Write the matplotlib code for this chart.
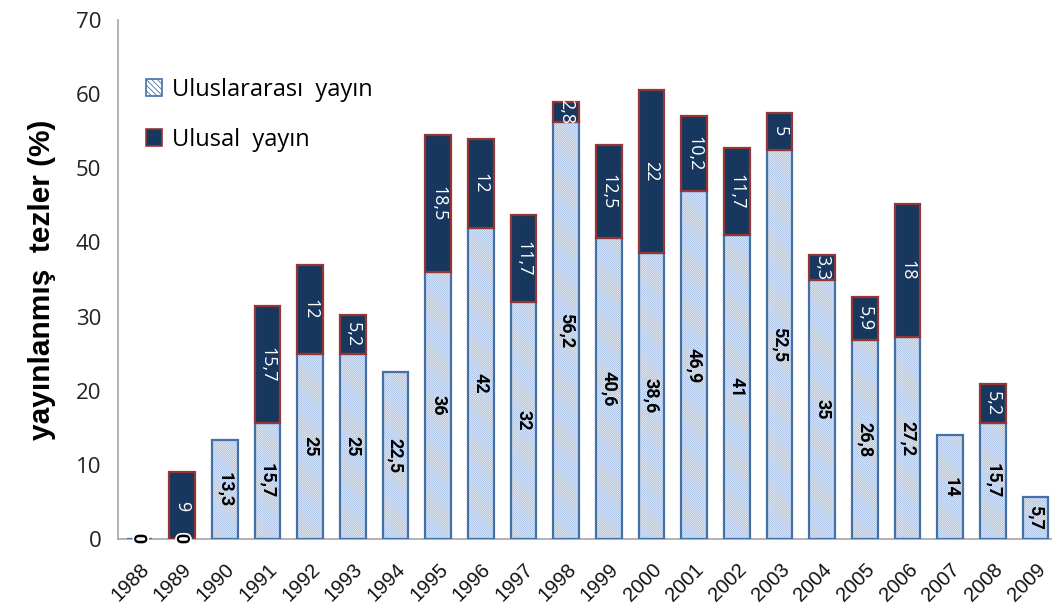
import matplotlib
matplotlib.use("Agg")
import matplotlib.pyplot as plt
from matplotlib.patches import Patch
from matplotlib import font_manager
import matplotlib.patheffects as pe
import numpy as np

years = ["1988", "1989", "1990", "1991", "1992", "1993", "1994", "1995", "1996", "1997", "1998",
         "1999", "2000", "2001", "2002", "2003", "2004", "2005", "2006", "2007", "2008", "2009"]
uluslararasi = [0, 0, 13.3, 15.7, 25, 25, 22.5, 36, 42, 32, 56.2,
                40.6, 38.6, 46.9, 41, 52.5, 35, 26.8, 27.2, 14, 15.7, 5.7]
ulusal = [0, 9, 0, 15.7, 12, 5.2, 0, 18.5, 12, 11.7, 2.8,
          12.5, 22, 10.2, 11.7, 5, 3.3, 5.9, 18, 0, 5.2, 0]
yticks = [0, 10, 20, 30, 40, 50, 60, 70]

names = {f.name for f in font_manager.fontManager.ttflist}
narrow = 'Liberation Sans Narrow' if 'Liberation Sans Narrow' in names else 'Roboto'
narrow_kw = {'fontstretch': 'condensed'}

plt.rcParams['hatch.linewidth'] = 0.6
fig = plt.figure(figsize=(10.52, 6.06), dpi=100)
ax = fig.add_axes([118/1052, 67/606, 939/1052, 519/606])

x = np.arange(len(years))
w = 0.6
hatch_col = '#9bb6de'
edge_int = '#4470a8'
navy = '#17375e'
red_edge = '#943634'
HATCH = '\\' * 16

ax.bar(x, uluslararasi, w, color='white', edgecolor=hatch_col, hatch=HATCH, linewidth=0, zorder=2)
ax.bar(x, uluslararasi, w, fill=False, edgecolor=edge_int, linewidth=1.6, zorder=3)
nz = [i for i in range(len(years)) if ulusal[i] > 0]
ax.bar([x[i] for i in nz], [ulusal[i] for i in nz], w, bottom=[uluslararasi[i] for i in nz],
       color=navy, edgecolor=red_edge, linewidth=1.6, zorder=3)

for i in range(len(years)):
    u = uluslararasi[i]
    n = ulusal[i]
    lab_u = f"{u:g}".replace('.', ',')
    lab_n = f"{n:g}".replace('.', ',')
    t = ax.text(x[i], u / 2, lab_u, rotation=270, ha='center', va='center',
                fontsize=13, fontweight='bold', color='black', fontfamily=narrow, zorder=5, **narrow_kw)
    if u == 0:
        t.set_path_effects([pe.withStroke(linewidth=2.5, foreground='white')])
    if n > 0:
        ax.text(x[i], u + n / 2, lab_n, rotation=270, ha='center', va='center',
                fontsize=13, color='white', fontfamily='Open Sans', zorder=5)

ax.set_xlim(-0.5, 21.5)
ax.set_ylim(0, 70)
ax.set_yticks(yticks)
ax.set_yticklabels([str(t) for t in yticks], fontsize=16, fontfamily='Open Sans', color='#222222')
ax.set_xticks(x)
ax.set_xticklabels(years, rotation=45, ha='right', rotation_mode='anchor', fontsize=14.5,
                   fontfamily='Liberation Sans', color='#111111')
ax.tick_params(axis='y', length=0, pad=12)
ax.tick_params(axis='x', length=0, pad=15)
for s in ['top', 'right']:
    ax.spines[s].set_visible(False)
for s in ['left', 'bottom']:
    ax.spines[s].set_color('#a6a6a6')
    ax.spines[s].set_linewidth(1.2)

ax.set_ylabel('yayınlanmış  tezler (%)', fontsize=21.5, fontweight='bold', fontfamily='Liberation Sans', labelpad=14)

handles = [Patch(facecolor='white', edgecolor=edge_int, hatch='\\' * 6, linewidth=1.2),
           Patch(facecolor=navy, edgecolor=red_edge, linewidth=1.2)]
leg = ax.legend(handles, ['Uluslararası  yayın', 'Ulusal  yayın'], loc='upper left',
                bbox_to_anchor=(0.007, 0.93), frameon=False, prop={'family': 'Open Sans', 'size': 17},
                labelspacing=1.1, handlelength=0.7, handleheight=0.7, handletextpad=0.4)

fig.savefig('out.png', dpi=100)
